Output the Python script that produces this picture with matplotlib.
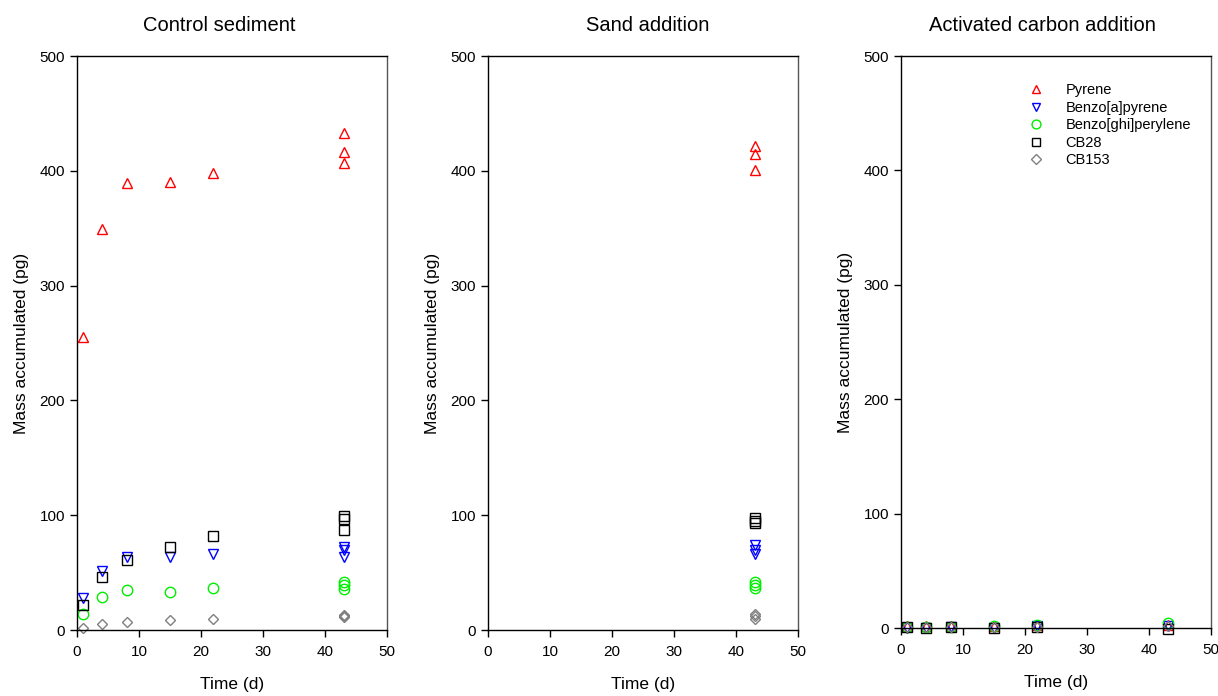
import matplotlib
matplotlib.use("Agg")
import matplotlib.pyplot as plt

plt.rcParams["font.family"] = ["Liberation Sans", "DejaVu Sans"]

# sampling times (d)
control_times = [1, 4, 8, 15, 22, 43, 43, 43]
sand_times = [43, 43, 43]
ac_times = [1, 4, 8, 15, 22, 43]

# control sediment
ctrl_pyrene = [255, 349, 389, 390, 398, 433, 416, 407]
ctrl_bap = [28, 51, 64, 64, 66, 72, 70, 64]
ctrl_bghip = [14, 29, 35, 33, 37, 42, 39, 36]
ctrl_cb28 = [22, 46, 61, 72, 82, 99, 97, 87]
ctrl_cb153 = [2, 5, 7, 9, 10, 13, 12, 11]

# sand addition
sand_pyrene = [422, 415, 401]
sand_bap = [74, 70, 66]
sand_bghip = [42, 39, 37]
sand_cb28 = [98, 95, 93]
sand_cb153 = [14, 12, 10]

# activated carbon addition
ac_pyrene = [2, 2, 2, 2, 3, 3]
ac_bap = [0, 0, 1, 0, 2, 2]
ac_bghip = [1, 1, 1, 2, 3, 4]
ac_cb28 = [1, 0, 1, 0, 1, -1]
ac_cb153 = [1, 1, 1, 1, 1, 2]

compounds = ["Pyrene", "Benzo[a]pyrene", "Benzo[ghi]perylene", "CB28", "CB153"]
markers = ["^", "v", "o", "s", "D"]
colors = ["#ff0000", "#0000ff", "#00ee00", "#000000", "#808080"]
sizes = [7.5, 7.5, 7.5, 6.5, 5.5]

panels = [
    ("Control sediment", control_times,
     [ctrl_pyrene, ctrl_bap, ctrl_bghip, ctrl_cb28, ctrl_cb153]),
    ("Sand addition", sand_times,
     [sand_pyrene, sand_bap, sand_bghip, sand_cb28, sand_cb153]),
    ("Activated carbon addition", ac_times,
     [ac_pyrene, ac_bap, ac_bghip, ac_cb28, ac_cb153]),
]

fig = plt.figure(figsize=(12.18, 6.96), dpi=100)
rects = [
    [0.0632, 0.0948, 0.2545, 0.8247],
    [0.4007, 0.0948, 0.2545, 0.8247],
    [0.7397, 0.0977, 0.2545, 0.8218],
]
title_x = [0.46, 0.516, 0.455]

for rect, tx, (title, times, series) in zip(rects, title_x, panels):
    ax = fig.add_axes(rect)
    for name, vals, m, c, ms in zip(compounds, series, markers, colors, sizes):
        ax.plot(times, vals, linestyle="none", marker=m, markersize=ms,
                markerfacecolor="none", markeredgecolor=c, markeredgewidth=1.0,
                label=name, clip_on=False)
    ax.set_xlim(0, 50)
    ax.set_ylim(0, 500)
    ax.set_xticks(range(0, 51, 10))
    ax.set_yticks(range(0, 501, 100))
    ax.tick_params(direction="out", length=5, width=1, labelsize=11,
                   top=False, right=False)
    ax.tick_params(axis="x", pad=5.5)
    for sp in ax.spines.values():
        sp.set_linewidth(1)
    ax.spines["right"].set_color("#555555")
    ax.set_title(title, fontsize=14.5, pad=18, x=tx)
    ax.set_xlabel("Time (d)", fontsize=12.5, labelpad=13)
    ax.set_ylabel("Mass accumulated (pg)", fontsize=12.5, labelpad=8)
    if title.startswith("Activated"):
        ax.legend(loc="upper right", bbox_to_anchor=(0.978, 0.975), frameon=False,
                  fontsize=10.5, handletextpad=1.4, labelspacing=0.24,
                  handlelength=1.2, markerscale=0.85)

fig.savefig("out.png", dpi=100)
